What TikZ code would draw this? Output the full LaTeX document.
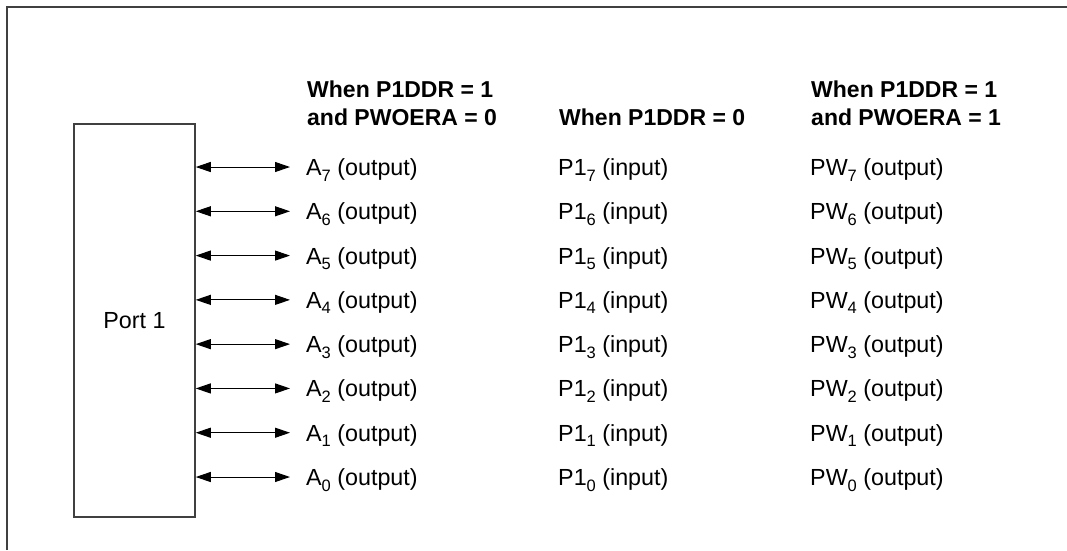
\documentclass[tikz,border=0pt]{standalone}
\usepackage{fontspec}
\setmainfont{Liberation Sans}
\usetikzlibrary{arrows.meta}
\newcommand\sub[1]{\raisebox{-5.5pt}{\fontsize{16.5}{16.5}\selectfont #1}}
\definecolor{frameg}{HTML}{404040}
\tikzset{
  lbl/.style={anchor=base west, inner sep=0pt, font=\fontsize{23.3}{28}\selectfont},
  hdr/.style={anchor=base west, inner sep=0pt, align=left, font=\fontsize{23}{28}\selectfont\bfseries},
  portbox/.style={draw=frameg, line width=1.5pt, minimum width=121pt, minimum height=393pt, inner sep=0pt, font=\fontsize{23.3}{28}\selectfont},
  bus/.style={line width=1pt, {Triangle[length=15pt,width=10pt]}-{Triangle[length=15pt,width=10pt]}}
}
\begin{document}
\begin{tikzpicture}[x=1pt,y=-1pt]
\useasboundingbox (0,0) rectangle (1067,550);
\draw[frameg, line width=1.5pt] (7,550) -- (7,7) -- (1067,7);
\node[portbox] (port) at (134.5,320.5) {Port 1};
\node[hdr] (h1) at (307,125) {When P1DDR = 1\\and PWOERA = 0};
\node[hdr] (h2) at (559,125) {When P1DDR = 0};
\node[hdr] (h3) at (811,125) {When P1DDR = 1\\and PWOERA = 1};
\foreach \i in {7,...,0} {
  \pgfmathsetmacro{\yy}{167+(7-\i)*44.286}
  \coordinate (e\i) at (290,\yy);
  \draw[bus] (port.east |- e\i) -- (e\i);
  \node[lbl] (a\i) at (306,\yy+8.5) {A\sub{\i} (output)};
  \node[lbl] (p\i) at (558,\yy+8.5) {P1\sub{\i} (input)};
  \node[lbl] (w\i) at (810,\yy+8.5) {PW\sub{\i} (output)};
}
\end{tikzpicture}
\end{document}
